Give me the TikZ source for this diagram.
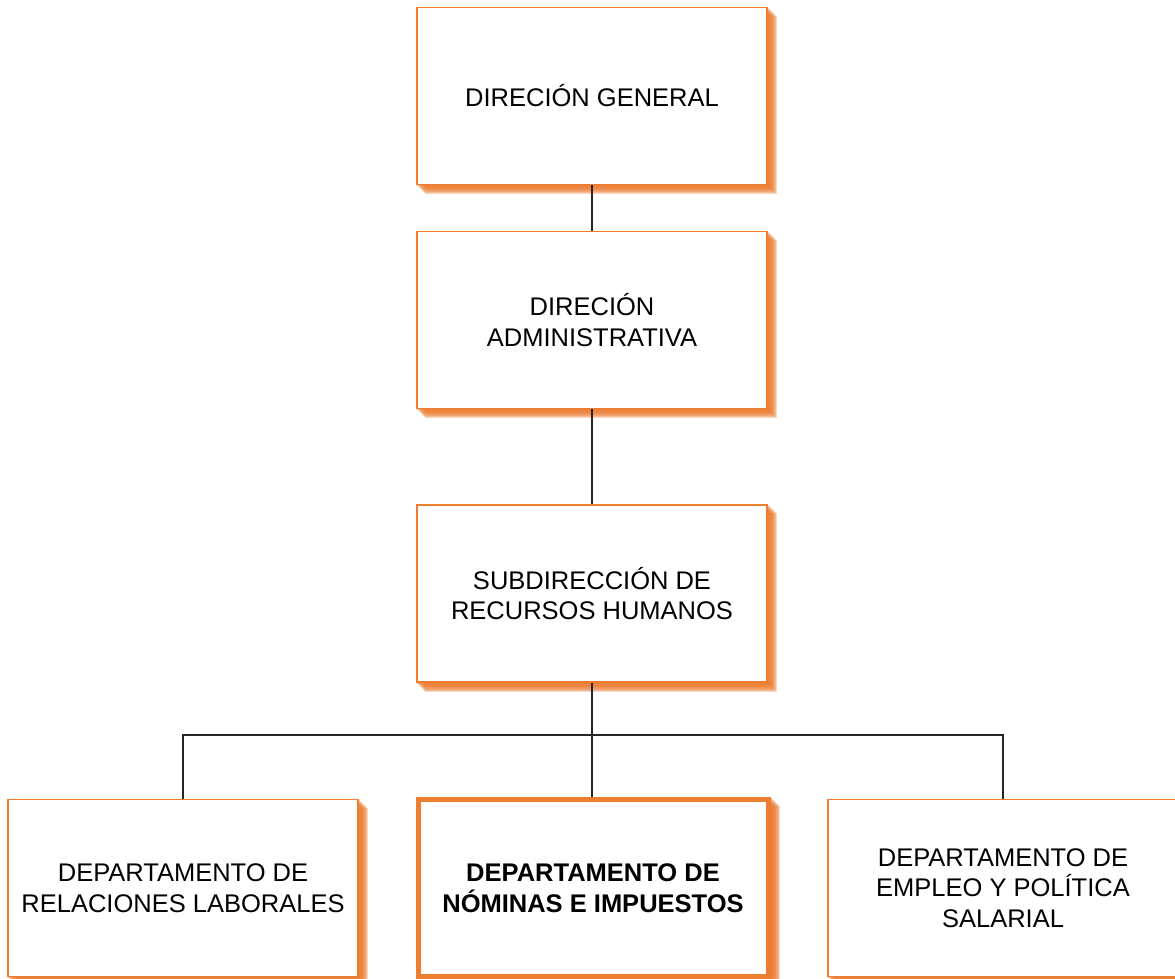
\documentclass[tikz,border=0pt]{standalone}
\usepackage{fontspec}
\setmainfont{Liberation Sans}
\usetikzlibrary{calc}
\definecolor{orgline}{HTML}{ED7D31}
\definecolor{conn}{HTML}{262626}
\pgfdeclarelayer{background}
\pgfsetlayers{background,main}
\newcommand{\orgshadow}[1]{%
  \begin{pgfonlayer}{background}
  \foreach \d in {1,...,9}{%
    \fill[orgline, opacity=0.3] ($(#1.south west)+(\d,\d)$) rectangle ($(#1.north east)+(\d,\d)$);
  }
  \end{pgfonlayer}}
\tikzset{
  orgbox/.style={draw=orgline, line width=1.4pt, fill=white, rectangle,
    minimum width=350pt, minimum height=177pt, align=center,
    font=\fontsize{25.5pt}{30.5pt}\selectfont, inner sep=0pt},
  orgboxbold/.style={orgbox, line width=5pt, font=\fontsize{25.5pt}{30.5pt}\selectfont\bfseries},
  link/.style={draw=conn, line width=1.3pt}
}
\begin{document}
\begin{tikzpicture}[x=1pt, y=-1pt]
\useasboundingbox (0,0) rectangle (1175,978);
\clip (0,0) rectangle (1175,978);
\begin{pgfonlayer}{background}
\fill[white] (0,0) rectangle (1175,978);
\end{pgfonlayer}
\node[orgbox] (dg) at (592,96) {DIRECIÓN GENERAL};
\node[orgbox] (da) at (592,320) {DIRECIÓN\\ADMINISTRATIVA};
\node[orgbox] (sr) at (592,593.5) {SUBDIRECCIÓN DE\\RECURSOS HUMANOS};
\node[orgbox] (rl) at (183,888) {DEPARTAMENTO DE\\RELACIONES LABORALES};
\node[orgboxbold] (ni) at (593,888) {DEPARTAMENTO DE\\NÓMINAS E IMPUESTOS};
\node[orgbox] (ep) at (1003,888) {DEPARTAMENTO DE\\EMPLEO Y POLÍTICA\\SALARIAL};
\orgshadow{dg}
\orgshadow{da}
\orgshadow{sr}
\orgshadow{rl}
\orgshadow{ni}
\orgshadow{ep}
\coordinate (bus) at (592,735);
\draw[link] (dg.south) -- (da.north);
\draw[link] (da.south) -- (sr.north);
\draw[link] (sr.south) -- (bus);
\draw[link] (bus) -| (rl.north);
\draw[link] (bus) -| (ep.north);
\draw[link] (bus) -- (bus |- ni.north);
\end{tikzpicture}
\end{document}
